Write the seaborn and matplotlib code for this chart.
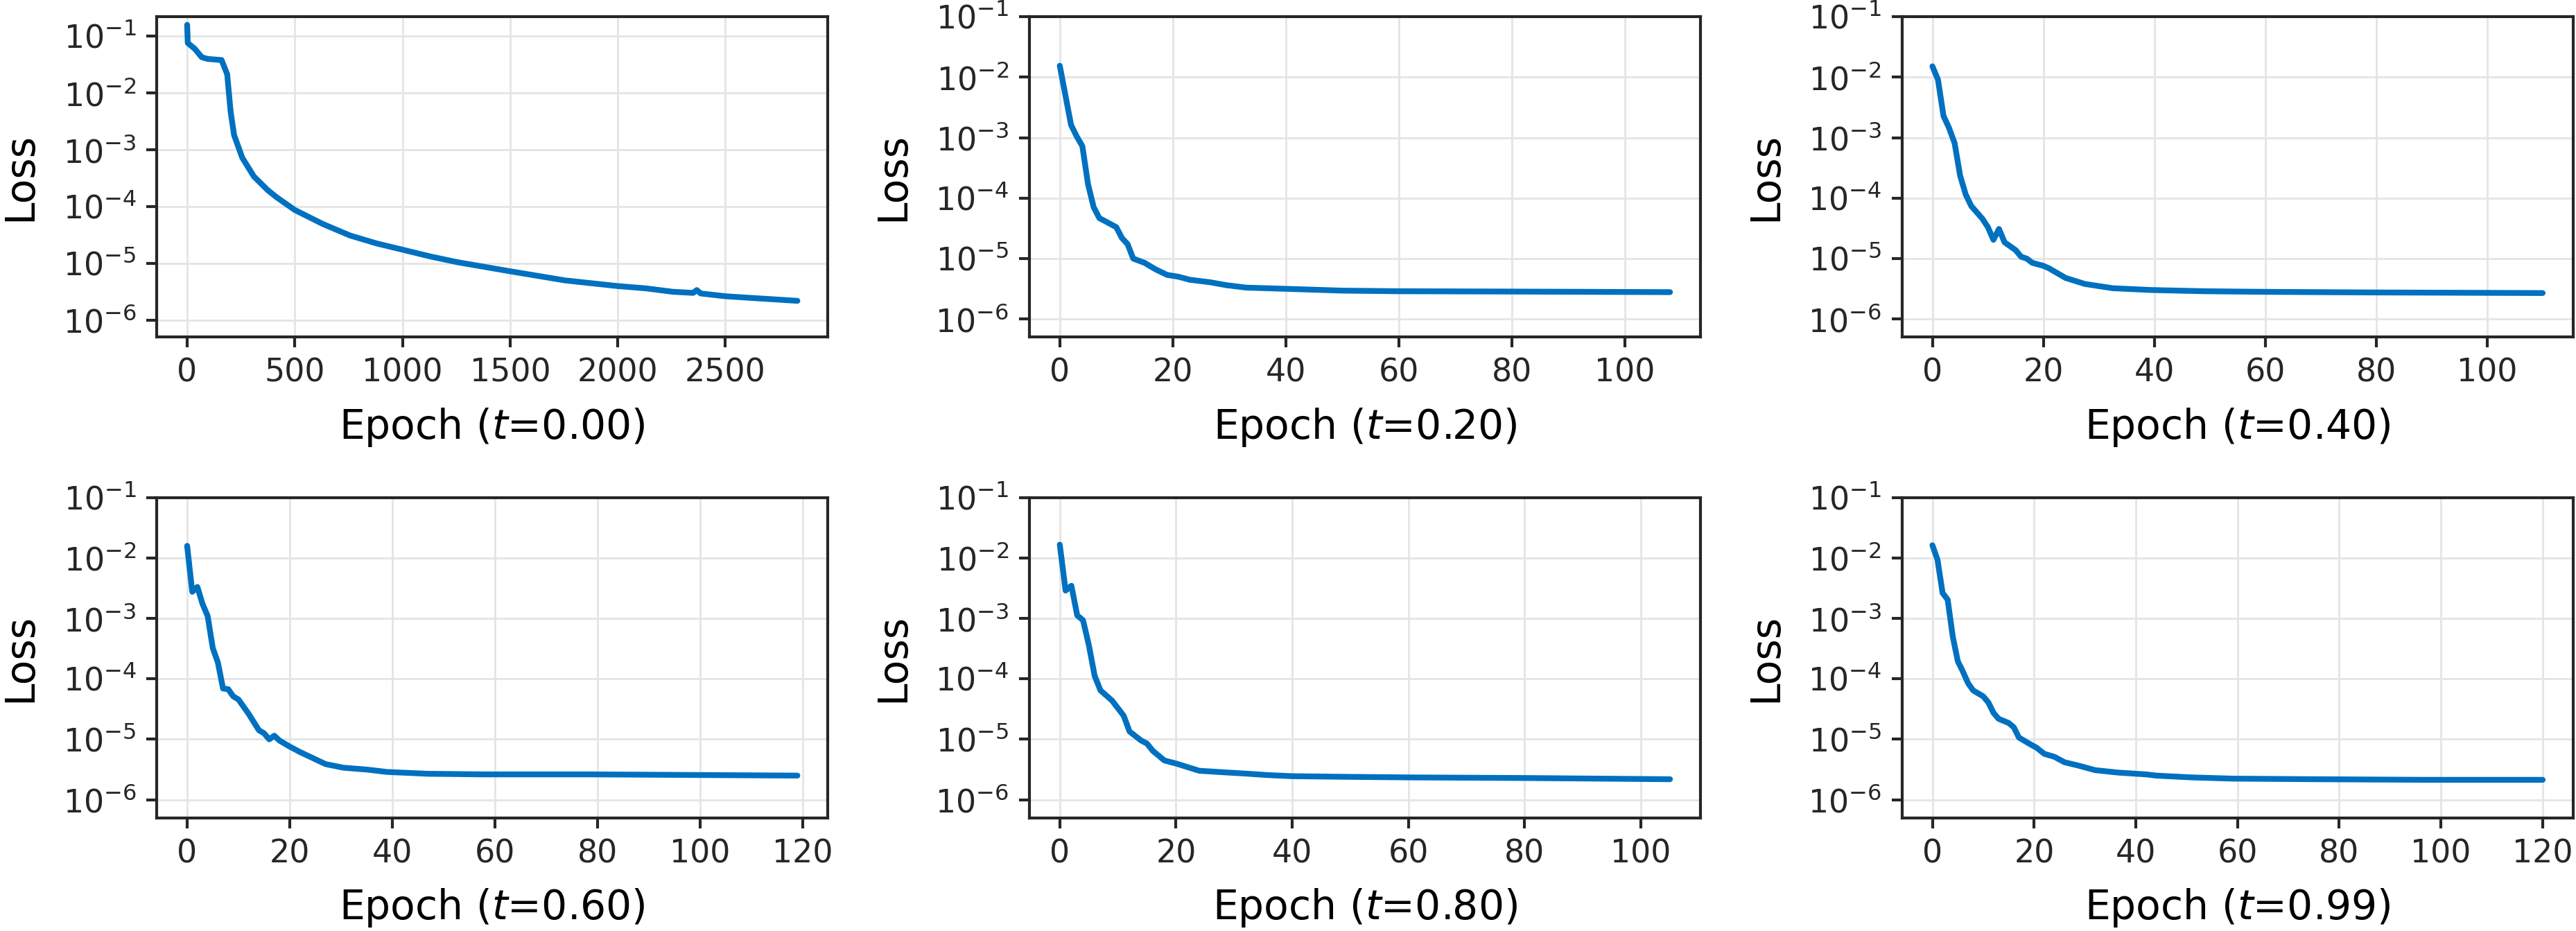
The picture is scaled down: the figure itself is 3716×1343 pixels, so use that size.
import numpy as np
import pandas as pd
import seaborn as sns
import matplotlib.pyplot as plt
from matplotlib import ticker

# time slices of the training
t_values = [0.00, 0.20, 0.40, 0.60, 0.80, 0.99]

# epochs / log10(loss)
epochs_0 = [0, 3, 35, 68, 95, 160, 186, 202, 218, 256, 310, 374, 417, 500, 632, 757, 881,
            1001, 1131, 1256, 1501, 1755, 2000, 2130, 2255, 2350, 2367, 2385, 2502, 2834]
logloss_0 = [-0.80, -1.12, -1.22, -1.37, -1.40, -1.42, -1.67, -2.33, -2.74, -3.14, -3.47, -3.71, -3.84,
             -4.06, -4.31, -4.51, -4.65, -4.76, -4.88, -4.98, -5.14, -5.30, -5.40, -5.44, -5.50,
             -5.52, -5.47, -5.53, -5.58, -5.66]

epochs_1 = [0, 2, 3, 4, 5, 6, 7, 8, 10, 11, 12, 13, 15, 17, 19, 21, 23, 26.5, 29.5, 33, 40, 50,
            60, 79, 108]
logloss_1 = [-1.81, -2.79, -2.98, -3.14, -3.77, -4.15, -4.33, -4.38, -4.48, -4.66, -4.76, -5.00,
             -5.07, -5.18, -5.27, -5.30, -5.35, -5.39, -5.44, -5.48, -5.50, -5.53, -5.54, -5.545,
             -5.555]

epochs_2 = [0, 1, 2, 3, 4, 5, 6, 7, 9, 10, 11, 12, 13, 15, 16, 17, 18, 20, 21, 24, 27.5, 32.5,
            39.5, 49, 60, 79, 110]
logloss_2 = [-1.82, -2.04, -2.64, -2.84, -3.09, -3.63, -3.94, -4.13, -4.34, -4.48, -4.69, -4.51,
             -4.73, -4.86, -4.97, -5.00, -5.07, -5.12, -5.16, -5.32, -5.42, -5.49, -5.52, -5.54,
             -5.55, -5.56, -5.57]

epochs_3 = [0, 1, 2, 3, 4, 5, 6, 7, 8, 9, 10, 12, 14, 15, 16, 17, 18, 20, 22, 24, 27, 30.5, 35,
            39, 47, 58, 79, 119]
logloss_3 = [-1.80, -2.56, -2.48, -2.76, -2.96, -3.49, -3.73, -4.16, -4.17, -4.29, -4.34, -4.58,
             -4.85, -4.90, -5.00, -4.94, -5.02, -5.12, -5.21, -5.29, -5.41, -5.47, -5.50, -5.54,
             -5.57, -5.58, -5.58, -5.60]

epochs_4 = [0, 1, 2, 3, 4, 5, 6, 7, 9, 11, 12, 14, 15, 16, 18, 20, 21, 24, 29, 32.5, 35.5, 40,
            49, 60, 80, 105]
logloss_4 = [-1.78, -2.54, -2.46, -2.95, -3.03, -3.44, -3.95, -4.19, -4.36, -4.61, -4.87, -5.02,
             -5.07, -5.19, -5.35, -5.40, -5.43, -5.52, -5.55, -5.57, -5.59, -5.61, -5.62, -5.63,
             -5.64, -5.66]

epochs_5 = [0, 1, 2, 3, 4, 5, 6, 7, 8, 10, 11, 12, 13, 15, 16, 17, 19, 20.5, 22, 24, 26, 28.5,
            32, 36.5, 42, 44, 51, 59, 75.5, 97, 120]
logloss_5 = [-1.79, -2.03, -2.58, -2.69, -3.30, -3.71, -3.88, -4.07, -4.19, -4.29, -4.39, -4.56,
             -4.66, -4.73, -4.80, -4.97, -5.07, -5.14, -5.24, -5.29, -5.38, -5.43, -5.51, -5.55,
             -5.58, -5.60, -5.63, -5.65, -5.66, -5.67, -5.67]

all_epochs = [epochs_0, epochs_1, epochs_2, epochs_3, epochs_4, epochs_5]
all_logloss = [logloss_0, logloss_1, logloss_2, logloss_3, logloss_4, logloss_5]
y_top = [0.22, 0.1, 0.1, 0.1, 0.1, 0.1]

line_color = '#0070C0'

sns.set_style("ticks", {
    "axes.edgecolor": "#262626",
    "axes.grid": True,
    "grid.color": "#e5e5e5",
    "xtick.direction": "out",
    "ytick.direction": "out",
})
plt.rcParams.update({
    "axes.linewidth": 1.0,
    "grid.linewidth": 0.7,
    "xtick.major.size": 3.5,
    "ytick.major.size": 3.5,
    "xtick.major.width": 1.0,
    "ytick.major.width": 1.0,
    "xtick.labelsize": 11,
    "ytick.labelsize": 11,
    "axes.labelsize": 14,
    "axes.labelcolor": "black",
    "xtick.color": "#262626",
    "ytick.color": "#262626",
})
plt.rcParams['font.family'] = ['DejaVu Sans']

fig, axes = plt.subplots(2, 3, figsize=(3716 / 300, 1343 / 300), dpi=300)
fig.subplots_adjust(left=0.0608, right=0.9989, top=0.982, bottom=0.1214,
                    wspace=0.30, hspace=0.50)

for i, ax in enumerate(axes.flat):
    df = pd.DataFrame({'epoch': all_epochs[i], 'loss': 10 ** np.array(all_logloss[i])})
    sns.lineplot(data=df, x='epoch', y='loss', ax=ax, color=line_color, linewidth=2.0)
    ax.set_yscale('log')
    ax.set_ylim(5e-7, y_top[i])
    ax.yaxis.set_major_locator(ticker.LogLocator(base=10, numticks=10))
    ax.yaxis.set_minor_locator(ticker.NullLocator())
    ax.set_xlabel(f"Epoch ($t$={t_values[i]:.2f})", labelpad=6)
    ax.set_ylabel("Loss", labelpad=8)
    ax.grid(True, which='major')
    for sp in ax.spines.values():
        sp.set_visible(True)

plt.savefig("out.png", dpi=300)
